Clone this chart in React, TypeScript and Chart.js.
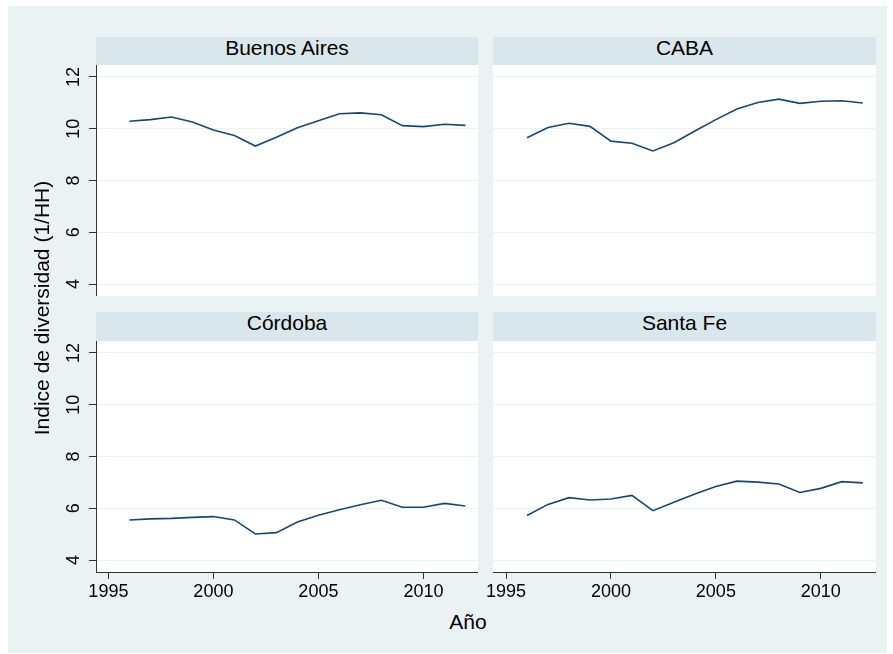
import React, { useEffect, useRef } from "react";
import { Chart, registerables } from "chart.js";

Chart.register(...registerables);

const years = [1996, 1997, 1998, 1999, 2000, 2001, 2002, 2003, 2004, 2005, 2006, 2007, 2008, 2009, 2010, 2011, 2012];
const buenosAires = [10.29, 10.35, 10.45, 10.26, 9.95, 9.74, 9.33, 9.67, 10.04, 10.31, 10.58, 10.61, 10.54, 10.12, 10.08, 10.17, 10.13];
const caba = [9.65, 10.05, 10.21, 10.09, 9.52, 9.44, 9.14, 9.46, 9.91, 10.35, 10.76, 11.01, 11.14, 10.98, 11.06, 11.08, 10.99];
const cordoba = [5.55, 5.59, 5.61, 5.65, 5.68, 5.55, 5.01, 5.06, 5.47, 5.73, 5.94, 6.14, 6.31, 6.04, 6.04, 6.19, 6.09];
const santaFe = [5.72, 6.15, 6.41, 6.32, 6.36, 6.5, 5.91, 6.23, 6.55, 6.84, 7.05, 7.01, 6.94, 6.61, 6.77, 7.03, 6.98];
const panelTitles = ["Buenos Aires", "CABA", "Córdoba", "Santa Fe"];
const yTicks = [4, 6, 8, 10, 12];
const xTicks = [1995, 2000, 2005, 2010];
const yTitle = "Indice de diversidad (1/HH)";
const xTitle = "Año";

const FONT = "'Liberation Sans', Arial, Helvetica, sans-serif";
const BG = "#EAF2F3";
const HEADER = "#D9E6EB";
const LINE = "#1A476F";
const AXIS = "#333333";

// draws the y tick labels rotated (reading bottom-to-top), positioned by the y scale
const rotatedYLabels = {
  id: "rotatedYLabels",
  afterDraw(chart: any, _args: any, opts: any) {
    if (!opts || !opts.enabled) return;
    const s = chart.scales.y;
    const ctx = chart.ctx;
    ctx.save();
    ctx.fillStyle = "#000";
    ctx.font = `18px ${FONT}`;
    ctx.textAlign = "center";
    ctx.textBaseline = "alphabetic";
    for (const t of s.ticks) {
      const py = s.getPixelForValue(t.value);
      ctx.save();
      ctx.translate(opts.baselineX, py);
      ctx.rotate(-Math.PI / 2);
      ctx.fillText(String(t.value), 0, 0);
      ctx.restore();
    }
    ctx.restore();
  },
};

type PanelProps = {
  values: number[];
  showY: boolean;
  showX: boolean;
  yWidth: number;
  width: number;
  height: number;
  left: number;
  top: number;
  xMin: number;
  xMax: number;
};

function Panel({ values, showY, showX, yWidth, width, height, left, top, xMin, xMax }: PanelProps) {
  const ref = useRef<HTMLCanvasElement | null>(null);
  useEffect(() => {
    if (!ref.current) return;
    const chart = new Chart(ref.current, {
      type: "line",
      data: {
        datasets: [
          {
            data: years.map((y, i) => ({ x: y, y: values[i] })),
            borderColor: LINE,
            borderWidth: 1.6,
            pointRadius: 0,
            tension: 0,
            fill: false,
          },
        ],
      },
      plugins: [rotatedYLabels],
      options: {
        animation: false,
        responsive: false,
        devicePixelRatio: 1,
        layout: { padding: 0 },
        plugins: {
          legend: { display: false },
          tooltip: { enabled: false },
          title: { display: false },
          rotatedYLabels: { enabled: showY, baselineX: 31 },
        } as any,
        scales: {
          x: {
            type: "linear",
            display: showX,
            min: xMin,
            max: xMax,
            afterBuildTicks: (s: any) => {
              s.ticks = xTicks.map((v) => ({ value: v }));
            },
            afterFit: (s: any) => {
              s.height = showX ? 34 : 0;
              s.paddingLeft = 0;
              s.paddingRight = 0;
            },
            grid: { drawOnChartArea: false, drawTicks: true, tickLength: 7, tickColor: AXIS, color: AXIS },
            border: { display: true, color: AXIS, width: 1 },
            ticks: {
              color: "#000",
              font: { family: FONT, size: 18 },
              padding: 2,
              maxRotation: 0,
              minRotation: 0,
              autoSkip: false,
              callback: (v: any) => String(v),
            },
          },
          y: {
            type: "linear",
            display: true,
            min: 3.54,
            max: 12.46,
            afterBuildTicks: (s: any) => {
              s.ticks = yTicks.map((v) => ({ value: v }));
            },
            afterFit: (s: any) => {
              s.width = yWidth;
              s.paddingTop = 0;
              s.paddingBottom = 0;
            },
            grid: {
              color: BG,
              lineWidth: 1,
              drawTicks: showY,
              tickLength: showY ? 7 : 0,
              tickColor: AXIS,
            },
            border: { display: showY, color: AXIS, width: 1 },
            ticks: {
              display: false,
              autoSkip: false,
            },
          },
        },
      },
    });
    return () => chart.destroy();
  }, []);
  return (
    <canvas
      ref={ref}
      width={width}
      height={height}
      style={{ position: "absolute", left, top, width, height }}
    />
  );
}

function Header({ text, left, top, width, height }: { text: string; left: number; top: number; width: number; height: number }) {
  return (
    <div
      style={{
        position: "absolute",
        left,
        top,
        width,
        height,
        background: HEADER,
        fontFamily: FONT,
        fontSize: 21,
        color: "#000",
        textAlign: "center",
        lineHeight: "21px",
        whiteSpace: "nowrap",
      }}
    >
      {text}
    </div>
  );
}

export default function App() {
  const LX = 96, LW = 382, RX = 493, RW = 383;
  const TOPH = 37, TOPP = 65, BOTH = 312, BOTP = 341, PH = 231;
  const RPAD = 20;
  return (
    <div style={{ position: "fixed", left: 0, top: 0, width: 893, height: 654, background: "#fff", overflow: "hidden" }}>
      <div style={{ position: "absolute", left: 8, top: 6, width: 879, height: 647, background: BG }} />
      <Header text={panelTitles[0]} left={LX} top={TOPH} width={LW} height={TOPP - TOPH} />
      <Header text={panelTitles[1]} left={RX} top={TOPH} width={RW} height={TOPP - TOPH} />
      <Header text={panelTitles[2]} left={LX} top={BOTH} width={LW} height={BOTP - BOTH} />
      <Header text={panelTitles[3]} left={RX} top={BOTH} width={RW} height={BOTP - BOTH} />
      <div style={{ position: "absolute", left: LX, top: TOPP, width: LW, height: PH, background: "#fff" }} />
      <div style={{ position: "absolute", left: RX, top: TOPP, width: RW, height: PH, background: "#fff" }} />
      <div style={{ position: "absolute", left: LX, top: BOTP, width: LW, height: PH, background: "#fff" }} />
      <div style={{ position: "absolute", left: RX, top: BOTP, width: RW, height: PH, background: "#fff" }} />
      <Panel values={buenosAires} showY={true} showX={false} yWidth={48} left={LX - 48} top={TOPP} width={LW + 48} height={PH} xMin={1994.41} xMax={2012.6} />
      <Panel values={caba} showY={false} showX={false} yWidth={RPAD} left={RX - RPAD} top={TOPP} width={RW + RPAD} height={PH} xMin={1994.38} xMax={2012.63} />
      <Panel values={cordoba} showY={true} showX={true} yWidth={48} left={LX - 48} top={BOTP} width={LW + 48} height={PH + 34} xMin={1994.41} xMax={2012.6} />
      <Panel values={santaFe} showY={false} showX={true} yWidth={RPAD} left={RX - RPAD} top={BOTP} width={RW + RPAD} height={PH + 34} xMin={1994.38} xMax={2012.63} />
      <div
        style={{
          position: "absolute",
          left: 42 - 150,
          top: 308 - 12,
          width: 300,
          height: 24,
          lineHeight: "24px",
          textAlign: "center",
          fontFamily: FONT,
          fontSize: 21,
          color: "#000",
          transform: "rotate(-90deg)",
          whiteSpace: "nowrap",
        }}
      >
        {yTitle}
      </div>
      <div
        style={{
          position: "absolute",
          left: 468 - 50,
          top: 622 - 12,
          width: 100,
          height: 24,
          lineHeight: "24px",
          textAlign: "center",
          fontFamily: FONT,
          fontSize: 21,
          color: "#000",
          whiteSpace: "nowrap",
        }}
      >
        {xTitle}
      </div>
    </div>
  );
}
